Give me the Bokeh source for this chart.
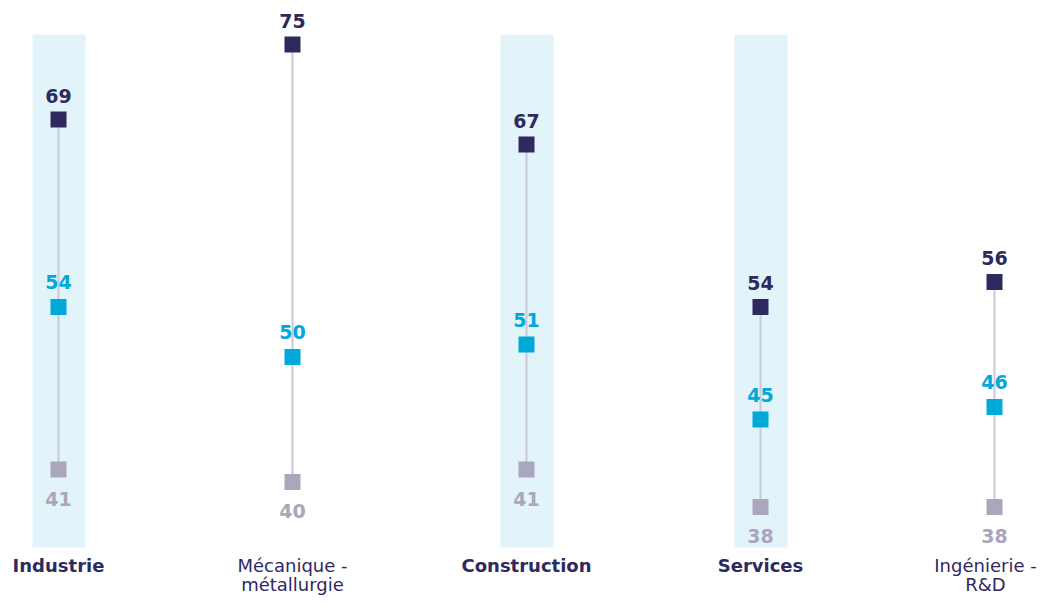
from bokeh.plotting import figure
from bokeh.models import ColumnDataSource, Range1d
from bokeh.embed import file_html
from bokeh.resources import INLINE
from bokeh.core.properties import value

categories = ["Industrie", "Mécanique -\nmétallurgie", "Construction", "Services", "Ingénierie -\nR&D"]
highlight = [True, False, True, True, False]
series_top = [69, 75, 67, 54, 56]
series_mid = [54, 50, 51, 45, 46]
series_low = [41, 40, 41, 38, 38]

DARK = "#2e2a5f"
CYAN = "#00a9d8"
GREY = "#aaa6bd"
LINE = "#c9c8d6"
BAND = "#e2f3fa"

W, H = 1040, 596
xs = list(range(len(categories)))
# pixel geometry: 234px per category, first centre at 58px; 12.5px per unit
PX_X = 234.0
PX_Y = 12.5
x0 = -58 / PX_X
x1 = x0 + W / PX_X
ytop = 75 + 44 / PX_Y
ybot = ytop - H / PX_Y

def yv(py):
    return ytop - py / PX_Y

p = figure(width=W, height=H, output_backend="svg", toolbar_location=None,
           x_range=Range1d(x0, x1), y_range=Range1d(ybot, ytop),
           min_border=0, outline_line_color=None)
p.axis.visible = False
p.grid.visible = False
p.background_fill_color = "white"
p.border_fill_color = "white"

# highlight bands
hx = [x for x, h in zip(xs, highlight) if h]
band_half = 26.5 / PX_X
p.quad(left=[x - band_half + 0.5 / PX_X for x in hx], right=[x + band_half + 0.5 / PX_X for x in hx],
       bottom=yv(547), top=yv(34), fill_color=BAND, line_color=None)

src = ColumnDataSource(dict(x=xs, top=series_top, mid=series_mid, low=series_low,
                            ttop=[str(v) for v in series_top],
                            tmid=[str(v) for v in series_mid],
                            tlow=[str(v) for v in series_low]))

p.segment(x0="x", y0="low", x1="x", y1="top", source=src, line_color=LINE, line_width=2)

p.scatter("x", "low", source=src, marker="square", size=16, fill_color=GREY, line_color=None)
p.scatter("x", "mid", source=src, marker="square", size=16, fill_color=CYAN, line_color=None)
p.scatter("x", "top", source=src, marker="square", size=16, fill_color=DARK, line_color=None)

FONT = value("DejaVu Sans")
common = dict(text_font=FONT, text_font_style="bold", text_font_size="19px",
              text_align="center", text_baseline="middle")
p.text("x", "top", text="ttop", source=src, y_offset=-24, text_color=DARK, **common)
p.text("x", "mid", text="tmid", source=src, y_offset=-25, text_color=CYAN, **common)
p.text("x", "low", text="tlow", source=src, y_offset=29, text_color=GREY, **common)

# category labels
l1 = yv(565)
l2 = yv(584)
for x, c, h in zip(xs, categories, highlight):
    lines = c.split("\n")
    style = "bold" if h else "normal"
    xo = -9 if x == xs[-1] else 0
    for i, t in enumerate(lines):
        p.text(x=[x], y=[l1 if i == 0 else l2], text=[t], text_font=FONT,
               text_font_style=style, text_font_size="18px", text_color=DARK,
               text_align="center", text_baseline="middle", x_offset=xo)

open("out.html", "w").write(file_html(p, INLINE))
